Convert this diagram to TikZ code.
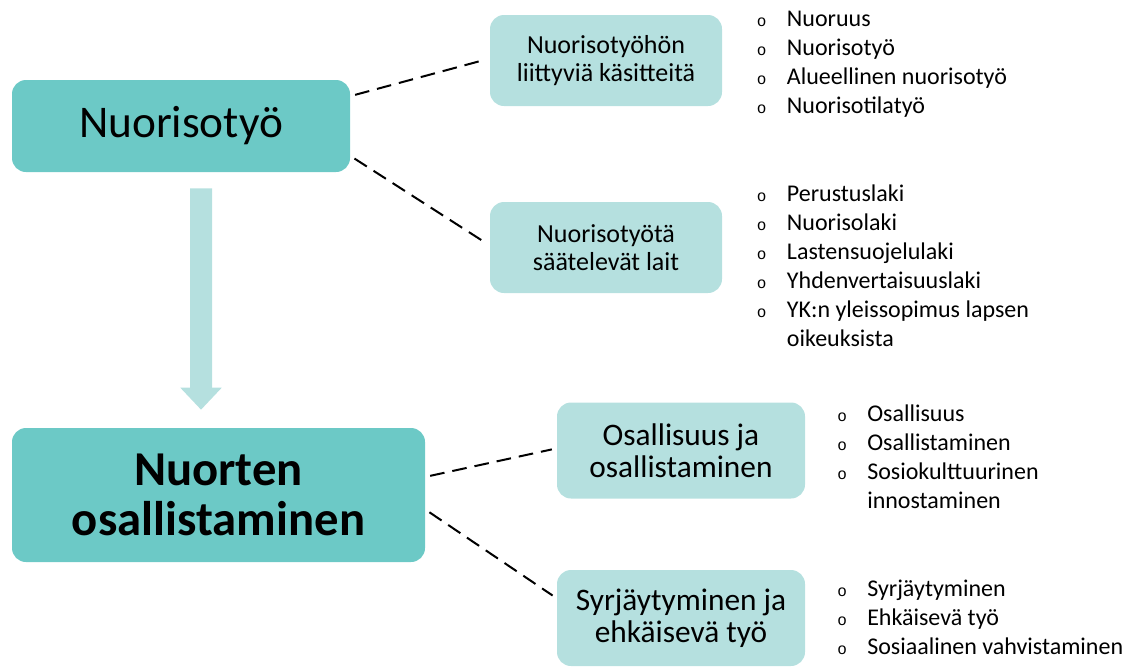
\documentclass[tikz,border=0pt]{standalone}
\usepackage{fontspec}
\setmainfont{Carlito}
\newfontfamily\bulletfont{Liberation Mono}
\usepackage{xcolor}
\usepackage{tikz}
\usetikzlibrary{arrows.meta}

\definecolor{tealdark}{HTML}{6CC9C6}
\definecolor{teallight}{HTML}{B5E0DF}
\newcommand{\itm}{\makebox[22.5pt][l]{\bulletfont\fontsize{12}{12}\selectfont o}}

\tikzset{
	mainbox/.style={fill=tealdark, rounded corners=10.5pt, align=center, inner sep=0pt},
	subbox/.style={fill=teallight, rounded corners=10.5pt, align=center, inner sep=0pt},
	itemlist/.style={anchor=base west, inner sep=0pt, font=\fontsize{18}{21.75}\selectfont},
	link/.style={dash pattern=on 11pt off 6pt, line width=1.5pt, shorten <=3.75pt, shorten >=3.75pt},
	bigarrow/.style={teallight, line width=16.5pt, -{Triangle[width=30pt,length=16.5pt]}}
}

\begin{document}
\begin{tikzpicture}[x=0.75pt,y=-0.75pt]
		\useasboundingbox (0,0) rectangle (1136,668);
		\node[mainbox, minimum width=253.5pt, minimum height=69pt, font=\fontsize{34}{40}\selectfont] (NT) at (181,126) {Nuorisotyö};
		\node[subbox, minimum width=174pt, minimum height=68.25pt, font=\fontsize{19.5}{21}\selectfont] (KA) at (606,60.5) {Nuorisotyöhön\\liittyviä käsitteitä};
		\node[subbox, minimum width=174pt, minimum height=68.25pt, font=\fontsize{19.5}{21}\selectfont] (LA) at (606,247.5) {Nuorisotyötä\\säätelevät lait};
		\node[mainbox, minimum width=309.75pt, minimum height=100.5pt, font=\bfseries\fontsize{36.5}{37.5}\selectfont] (NO) at (218.5,495) {Nuorten\\osallistaminen};
		\node[subbox, minimum width=186pt, minimum height=72pt, font=\fontsize{23.5}{24}\selectfont] (OS) at (681,450.5) {Osallisuus ja\\osallistaminen};
		\node[subbox, minimum width=186pt, minimum height=72pt, font=\fontsize{23.5}{24}\selectfont] (SY) at (681,618) {Syrjäytyminen ja\\ehkäisevä työ};
		%
		\node[itemlist] (L1) at (756.7,26.5) {\begin{tabular}[t]{@{}l@{}l@{}}
			\itm & Nuoruus\\ \itm & Nuorisotyö\\ \itm & Alueellinen nuorisotyö\\ \itm & Nuorisotilatyö
			\end{tabular}};
		\node[itemlist] (L2) at (756.7,201.5) {\begin{tabular}[t]{@{}l@{}l@{}}
			\itm & Perustuslaki\\ \itm & Nuorisolaki\\ \itm & Lastensuojelulaki\\ \itm & Yhdenvertaisuuslaki\\
			\itm & YK:n yleissopimus lapsen\\ & oikeuksista
			\end{tabular}};
		\node[itemlist] (L3) at (837,421.5) {\begin{tabular}[t]{@{}l@{}l@{}}
			\itm & Osallisuus\\ \itm & Osallistaminen\\ \itm & Sosiokulttuurinen\\ & innostaminen
			\end{tabular}};
		\node[itemlist] (L4) at (837,596) {\begin{tabular}[t]{@{}l@{}l@{}}
			\itm & Syrjäytyminen\\ \itm & Ehkäisevä työ\\ \itm & Sosiaalinen vahvistaminen
			\end{tabular}};
		%
		\path[link]
		(NT.10) edge (KA.179)
		(NT.-10) edge (LA.179)
		(NO.5.5) edge (OS.179)
		(NO.-4.2) edge (SY.171);
		\draw[bigarrow] ([xshift=15pt,yshift=-12pt]NT.south) -- ([xshift=-13.1pt,yshift=13.5pt]NO.north);
		\end{tikzpicture}
\end{document}
